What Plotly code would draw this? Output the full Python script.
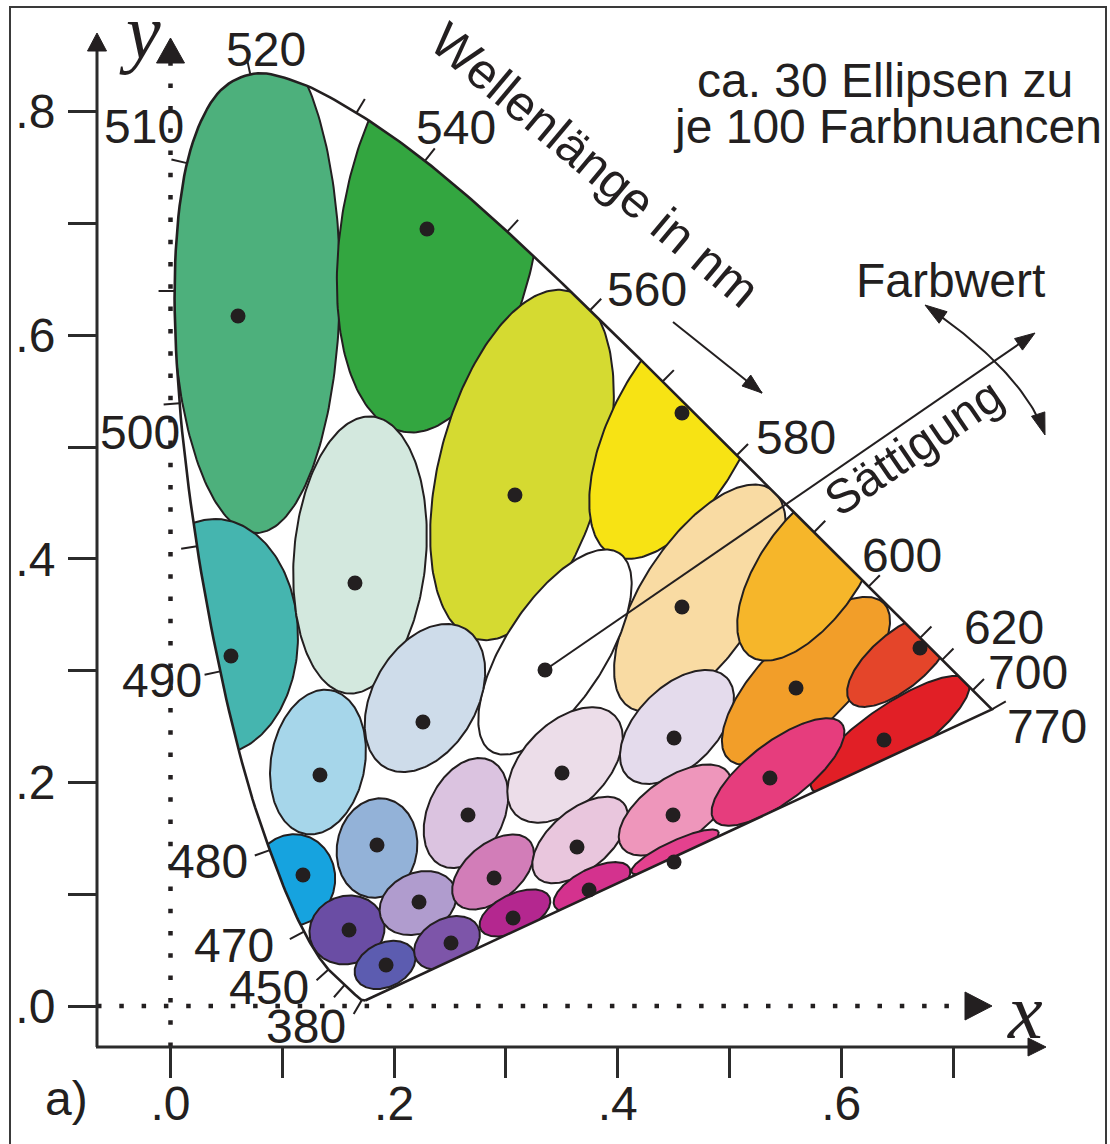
import numpy as np
import plotly.graph_objects as go

# ---------------- data ----------------
# CIE 1931 spectral locus (chromaticity coordinates), wavelength in nm
locus_nm = [380, 385, 390, 395, 400, 405, 410, 415, 420, 425, 430, 435, 440, 445, 450,
            455, 460, 465, 470, 475, 480, 485, 490, 495, 500, 505, 510, 515, 520, 525,
            530, 535, 540, 545, 550, 555, 560, 565, 570, 575, 580, 585, 590, 595, 600,
            605, 610, 615, 620, 625, 630, 635, 640, 645, 650, 660, 670, 700]
locus_x = [0.17411, 0.17401, 0.17380, 0.17356, 0.17334, 0.17302, 0.17258, 0.17209, 0.17141,
           0.17030, 0.16888, 0.16690, 0.16441, 0.16110, 0.15664, 0.15099, 0.14396, 0.13550,
           0.12412, 0.10959, 0.09129, 0.06871, 0.04539, 0.02346, 0.00817, 0.00386, 0.01387,
           0.03885, 0.07430, 0.11416, 0.15472, 0.19288, 0.22962, 0.26578, 0.30160, 0.33736,
           0.37310, 0.40874, 0.44406, 0.47877, 0.51249, 0.54479, 0.57515, 0.60293, 0.62704,
           0.64823, 0.66576, 0.68008, 0.69150, 0.70061, 0.70792, 0.71403, 0.71903, 0.72303,
           0.72599, 0.73036, 0.73272, 0.73469]
locus_y = [0.00496, 0.00498, 0.00492, 0.00492, 0.00480, 0.00478, 0.00480, 0.00483, 0.00510,
           0.00579, 0.00690, 0.00856, 0.01086, 0.01379, 0.01771, 0.02274, 0.02970, 0.03988,
           0.05780, 0.08684, 0.13270, 0.20072, 0.29498, 0.41270, 0.53842, 0.65482, 0.75019,
           0.81202, 0.83380, 0.82621, 0.80586, 0.78163, 0.75433, 0.72432, 0.69231, 0.65885,
           0.62445, 0.58961, 0.55471, 0.52020, 0.48659, 0.45443, 0.42423, 0.39650, 0.37249,
           0.35139, 0.33401, 0.31975, 0.30834, 0.29930, 0.29203, 0.28593, 0.28093, 0.27695,
           0.27401, 0.26964, 0.26728, 0.26531]

# wavelength tick marks on the locus (positions)
tick_nm = [380, 440, 450, 470, 480, 490, 495, 500, 505, 510, 520, 530, 540, 550, 560,
           570, 580, 590, 600, 610, 620, 700, 770]
tick_x = [0.1659, 0.1471, 0.1328, 0.1069, 0.0818, 0.0416, 0.0192, 0.0013, -0.0058, 0.0031,
          0.0711, 0.1695, 0.2303, 0.3099, 0.3842, 0.4468, 0.5148, 0.5864, 0.6320, 0.6793,
          0.6999, 0.7276, 0.7447]
tick_y = [-0.0036, 0.0089, 0.0250, 0.0599, 0.1369, 0.2987, 0.4106, 0.5385, 0.6395, 0.7567,
          0.8345, 0.8041, 0.7594, 0.7021, 0.6315, 0.5653, 0.5009, 0.4347, 0.3828, 0.3381,
          0.3193, 0.2925, 0.2710]
labelled_nm = ['520', '510', '540', '560', '580', '600', '620', '700', '770',
               '500', '490', '480', '470', '450', '380']

# ~30 ellipses (centre, semi-axes, tilt in degrees, colour)
ell_cx = [0.0765, 0.2411, 0.0398, 0.1695, 0.3144, 0.4557, 0.4736, 0.3439, 0.2276, 0.1319,
          0.1096, 0.1847, 0.1579, 0.1919, 0.2214, 0.2473, 0.2643, 0.2885, 0.3081, 0.3529,
          0.3663, 0.3770, 0.4530, 0.4513, 0.4513, 0.5684, 0.5720, 0.6525, 0.6436, 0.5434]
ell_cy = [0.6467, 0.6986, 0.3301, 0.4034, 0.4839, 0.5179, 0.3649, 0.3166, 0.2755, 0.2182,
          0.1127, 0.1413, 0.0680, 0.0367, 0.0921, 0.0564, 0.1726, 0.1199, 0.0832, 0.2156,
          0.1485, 0.1064, 0.2496, 0.1753, 0.1377, 0.2907, 0.3900, 0.3095, 0.2424, 0.2093]
ell_a = [0.2236, 0.1878, 0.1055, 0.1243, 0.1610, 0.1297, 0.1163, 0.1055, 0.0716, 0.0653,
         0.0411, 0.0447, 0.0340, 0.0286, 0.0358, 0.0313, 0.0519, 0.0429, 0.0340, 0.0626,
         0.0510, 0.0376, 0.0626, 0.0581, 0.0429, 0.0984, 0.0939, 0.0581, 0.0850, 0.0716]
ell_b = [0.0751, 0.0877, 0.0742, 0.0590, 0.0733, 0.0608, 0.0519, 0.0447, 0.0465, 0.0420,
         0.0376, 0.0358, 0.0304, 0.0197, 0.0268, 0.0215, 0.0340, 0.0250, 0.0170, 0.0376,
         0.0268, 0.0161, 0.0358, 0.0286, 0.0098, 0.0403, 0.0447, 0.0250, 0.0250, 0.0268]
ell_angle = [90, 80, 90, 85, 75, 62, 57, 57, 60, 80,
             80, 80, 20, 25, 25, 28, 65, 40, 25, 45,
             40, 27, 45, 35, 25, 45, 55, 40, 35, 37]
ell_color = ['#4DB07C', '#33A640', '#45B5AF', '#D3E8DE', '#D5DA31', '#F7E314', '#F9DBA3',
             '#FFFFFF', '#CEDCEA', '#A6D6EA', '#16A3DF', '#93B2D8', '#6A4DA4', '#5C5CB0',
             '#B09CCE', '#7D55A9', '#DBC3E0', '#D27DB8', '#B4278F', '#ECDDE9', '#E9C6DD',
             '#D4328E', '#E4DBEC', '#EE96BB', '#E4418E', '#F29E29', '#F6B62A', '#E4452A',
             '#E11F26', '#E63D7D']

# centre points (dots)
dot_x = [0.0604, 0.2294, 0.0541, 0.1650, 0.3081, 0.4575, 0.4575, 0.3350, 0.2258, 0.1337,
         0.1185, 0.1847, 0.1597, 0.1928, 0.2223, 0.2509, 0.2661, 0.2894, 0.3064, 0.3502,
         0.3636, 0.3744, 0.4504, 0.4495, 0.4504, 0.5595, 0.6704, 0.6382, 0.5362]
dot_y = [0.6172, 0.6950, 0.3131, 0.3784, 0.4571, 0.5304, 0.3569, 0.3005, 0.2540, 0.2066,
         0.1172, 0.1440, 0.0680, 0.0367, 0.0930, 0.0564, 0.1708, 0.1145, 0.0787, 0.2084,
         0.1422, 0.1038, 0.2397, 0.1708, 0.1288, 0.2844, 0.3202, 0.2379, 0.2039]

x_tickvals = [0.0, 0.1, 0.2, 0.3, 0.4, 0.5, 0.6, 0.7]
x_ticktext = ['.0', '', '.2', '', '.4', '', '.6', '']
y_tickvals = [0.0, 0.1, 0.2, 0.3, 0.4, 0.5, 0.6, 0.7, 0.8]
y_ticktext = ['.0', '', '.2', '', '.4', '', '.6', '', '.8']

# ---------------- layout helpers ----------------
W, H = 1110, 1144
S = 1118.0               # pixels per chromaticity unit (both axes)
X0, Y0 = 170.5, 1006.0   # pixel position of the origin


def px2x(p):
    return (p - X0) / S


def py2y(p):
    return (Y0 - p) / S


INK = '#231F20'
FONT = 'Liberation Sans, Arial, sans-serif'
SERIF = 'Liberation Serif, Times New Roman, serif'


def smooth_curve(xs, ys, n=10):
    """Catmull-Rom rendering of an open polyline (for a smooth drawn outline)."""
    P = np.column_stack([xs, ys])
    P = np.vstack([P[0], P, P[-1]])
    out = []
    for i in range(1, len(P) - 2):
        p0, p1, p2, p3 = P[i - 1], P[i], P[i + 1], P[i + 2]
        for s in np.linspace(0, 1, n, endpoint=False):
            s2, s3 = s * s, s * s * s
            out.append(0.5 * ((2 * p1) + (-p0 + p2) * s + (2 * p0 - 5 * p1 + 4 * p2 - p3) * s2
                              + (-p0 + 3 * p1 - 3 * p2 + p3) * s3))
    out.append(P[-2])
    out = np.array(out)
    return list(out[:, 0]), list(out[:, 1])


fig = go.Figure()

# ---------------- ellipses ----------------
t = np.linspace(0, 2 * np.pi, 241)
for cx, cy, a, b, ang, col in zip(ell_cx, ell_cy, ell_a, ell_b, ell_angle, ell_color):
    th = np.radians(ang)
    ex = cx + a * np.cos(t) * np.cos(th) - b * np.sin(t) * np.sin(th)
    ey = cy + a * np.cos(t) * np.sin(th) + b * np.sin(t) * np.cos(th)
    fig.add_trace(go.Scatter(x=ex, y=ey, mode='lines', fill='toself', fillcolor=col,
                             line=dict(color=INK, width=2), hoverinfo='skip'))

# ---------------- white mask outside the locus ----------------
sx, sy = smooth_curve(locus_x, locus_y)
lx, ly = list(sx), list(sy)
area = 0.0
for i in range(len(lx)):
    j = (i + 1) % len(lx)
    area += lx[i] * ly[j] - lx[j] * ly[i]
if area > 0:           # make locus clockwise (outer rectangle is counter-clockwise)
    lx, ly = lx[::-1], ly[::-1]
xmin, xmax = px2x(-30), px2x(W + 30)
ymin, ymax = py2y(H + 30), py2y(-30)
mask_x = [xmin, xmax, xmax, xmin, xmin] + lx + [lx[0], xmin]
mask_y = [ymin, ymin, ymax, ymax, ymin] + ly + [ly[0], ymin]
fig.add_trace(go.Scatter(x=mask_x, y=mask_y, mode='lines', fill='toself',
                         fillcolor='white', line=dict(width=0), hoverinfo='skip'))

# ---------------- locus outline ----------------
fig.add_trace(go.Scatter(x=sx + [sx[0]], y=sy + [sy[0]],
                         mode='lines', line=dict(color=INK, width=2.6), hoverinfo='skip'))

# ---------------- wavelength ticks ----------------
poly = list(zip(sx + [sx[0]], sy + [sy[0]]))
TL = 16 / S
tx, ty = [], []
for px_, py_ in zip(tick_x, tick_y):
    best = None
    for (x1, y1), (x2, y2) in zip(poly[:-1], poly[1:]):
        vx, vy = x2 - x1, y2 - y1
        L2 = vx * vx + vy * vy
        if L2 == 0:
            continue
        u = max(0.0, min(1.0, ((px_ - x1) * vx + (py_ - y1) * vy) / L2))
        qx, qy = x1 + u * vx, y1 + u * vy
        d = (px_ - qx) ** 2 + (py_ - qy) ** 2
        if best is None or d < best[0]:
            best = (d, qx, qy, vx, vy)
    d, qx, qy, vx, vy = best
    if d > 1e-12:
        nx, ny = px_ - qx, py_ - qy
    else:
        nx, ny = vy, -vx
    n = np.hypot(nx, ny)
    nx, ny = nx / n, ny / n
    tx += [qx, qx + nx * TL, None]
    ty += [qy, qy + ny * TL, None]
fig.add_trace(go.Scatter(x=tx, y=ty, mode='lines', line=dict(color=INK, width=2),
                         hoverinfo='skip'))

# ---------------- arrows ----------------


def head(tip, direction, length=20, half=7):
    ux, uy = direction
    n = np.hypot(ux, uy)
    ux, uy = ux / n, uy / n
    bx, by = tip[0] - ux * length, tip[1] - uy * length
    ox, oy = -uy, ux
    pts = [tip, (bx + ox * half, by + oy * half), (bx - ox * half, by - oy * half), tip]
    return [px2x(p[0]) for p in pts], [py2y(p[1]) for p in pts]


def add_head(tip, direction, length=20, half=7):
    hx, hy = head(tip, direction, length, half)
    fig.add_trace(go.Scatter(x=hx, y=hy, mode='lines', fill='toself', fillcolor=INK,
                             line=dict(color=INK, width=1), hoverinfo='skip'))


def add_line(pts, width=2, dash=None, color=INK):
    fig.add_trace(go.Scatter(x=[px2x(p[0]) for p in pts], y=[py2y(p[1]) for p in pts],
                             mode='lines', line=dict(color=color, width=width, dash=dash),
                             hoverinfo='skip'))


# Saettigung arrow (from the white point outward)
sat_start = ((dot_x[7] * S + X0), (Y0 - dot_y[7] * S))
sat_tip = (1035, 333)
add_line([sat_start, (sat_tip[0] - 8 * 0.824, sat_tip[1] + 8 * 0.566)])
add_head(sat_tip, (sat_tip[0] - sat_start[0], sat_tip[1] - sat_start[1]))

# wavelength direction arrow
wl_a, wl_b = (673, 322), (762, 393)
add_line([wl_a, wl_b])
add_head(wl_b, (wl_b[0] - wl_a[0], wl_b[1] - wl_a[1]))

# Farbwert curved double arrow
P0, C, P2 = np.array([925.0, 305.0]), np.array([1025.0, 374.0]), np.array([1045.0, 435.0])
tt = np.linspace(0.05, 0.95, 40)
arc = [tuple((1 - s) ** 2 * P0 + 2 * s * (1 - s) * C + s ** 2 * P2) for s in tt]
add_line(arc)
add_head(tuple(P0), tuple(P0 - C), 22, 7)
add_head(tuple(P2), tuple(P2 - C), 22, 7)

# ---------------- dots ----------------
fig.add_trace(go.Scatter(x=dot_x, y=dot_y, mode='markers',
                         marker=dict(color=INK, size=15, line=dict(width=0)),
                         hoverinfo='skip'))

# ---------------- dotted coordinate lines ----------------
add_line([(170.5, 1047), (170.5, 62)], width=4.5, dash='4.5px,17.8px')
add_line([(97, 1006), (965, 1006)], width=4.5, dash='4.5px,17.8px')
add_head((170.5, 38), (0, -1), 25, 14)
add_head((992, 1006), (1, 0), 27, 14)

# ---------------- axis lines ----------------
add_line([(97, 1047), (97, 45)], width=3, color='#2B2B2B')
add_head((97, 33), (0, -1), 18, 9.5)
add_line([(96, 1047), (1032, 1047)], width=3, color='#2B2B2B')
add_head((1046, 1047), (1, 0), 18, 9)

# ---------------- annotations ----------------
ann = []


def txt(s, px, py, size=48, angle=0, family=FONT):
    ann.append(dict(x=px2x(px), y=py2y(py), xref='x', yref='y', text=s, showarrow=False,
                    font=dict(family=family, size=size, color=INK),
                    xanchor='center', yanchor='middle', textangle=angle))


label_pos = [(266, 49), (144, 126), (456, 127), (647, 289), (796, 437), (902, 555),
             (1004, 627), (1028, 672), (1047, 726), (140, 432), (162, 680), (208, 861),
             (234, 945), (269, 987), (306, 1026)]
for s, (lx_, ly_) in zip(labelled_nm, label_pos):
    txt(s, lx_, ly_)

txt('Wellenlänge in nm', 595, 165, size=50, angle=40)
txt('Sättigung', 913, 447, size=48, angle=-34.3)
txt('Farbwert', 950, 280)
txt('ca. 30 Ellipsen zu', 885, 80)
txt('je 100 Farbnuancen', 887, 126)
txt('a)', 66, 1098)
txt('<i>y</i>', 140, 31, size=78, family=SERIF)
txt('<i>x</i>', 1025, 1011, size=78, family=SERIF)

axis_common = dict(showgrid=False, zeroline=False, showline=False, ticks='outside',
                   tickwidth=2.5, tickcolor='#2B2B2B', fixedrange=True,
                   tickfont=dict(family=FONT, size=48, color=INK))

fig.update_layout(
    width=W, height=H, autosize=False,
    margin=dict(l=0, r=0, t=0, b=0),
    paper_bgcolor='white', plot_bgcolor='white',
    showlegend=False, hovermode=False,
    xaxis=dict(range=[px2x(0), px2x(W)], anchor='free', position=(H - 1047) / H,
               tickvals=x_tickvals, ticktext=x_ticktext, ticklen=30, ticklabelstandoff=-16,
               **axis_common),
    yaxis=dict(range=[py2y(H), py2y(0)], anchor='free', position=97 / W,
               tickvals=y_tickvals, ticktext=y_ticktext, ticklen=29, ticklabelstandoff=3,
               **axis_common),
    annotations=ann,
    shapes=[dict(type='rect', xref='paper', yref='paper', x0=10 / W, x1=1106 / W,
                 y0=-0.05, y1=(H - 7) / H, line=dict(color='#3A3A3A', width=2),
                 fillcolor='rgba(0,0,0,0)', layer='above')],
)

fig.write_html('out.html', config={'displayModeBar': False},
               post_script="document.body.style.margin='0px';")
